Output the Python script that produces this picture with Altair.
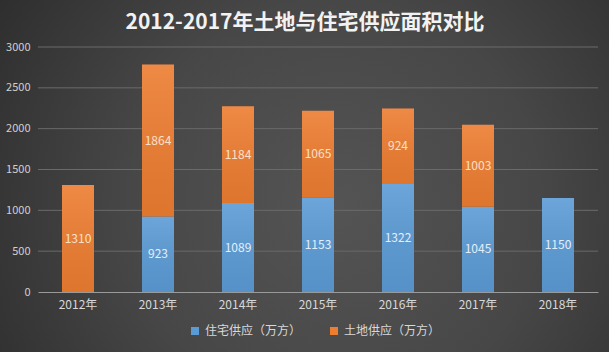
import altair as alt
import pandas as pd

years = ["2012年", "2013年", "2014年", "2015年", "2016年", "2017年", "2018年"]
housing = [0, 923, 1089, 1153, 1322, 1045, 1150]
land = [1310, 1864, 1184, 1065, 924, 1003, 0]
series_names = ["住宅供应（万方）", "土地供应（万方）"]
y_ticks = [0, 500, 1000, 1500, 2000, 2500, 3000]

rows = []
for i, y in enumerate(years):
    for k, (name, vals) in enumerate(zip(series_names, [housing, land])):
        if vals[i] > 0:
            rows.append({"year": y, "series": name, "value": vals[i], "ord": k})
df = pd.DataFrame(rows)

W, H = 560, 245
PAD = {"left": 38, "top": 47, "right": 11, "bottom": 60}
FONT = "Noto Sans CJK SC"

x_enc = alt.X(
    "year:N",
    sort=years,
    scale=alt.Scale(paddingInner=0.6, paddingOuter=0.3),
    axis=alt.Axis(title=None, labelAngle=0, ticks=False, domainColor="#9a9a9a",
                  domainWidth=1, labelColor="#d8d8d8", labelFontSize=12,
                  labelPadding=7, labelFont=FONT, zindex=1),
)
y_scale = alt.Scale(domain=[0, 3000], nice=False)

bg = alt.Chart(pd.DataFrame({"a": [0]})).mark_rect(
    color=alt.Gradient(
        gradient="radial",
        stops=[alt.GradientStop(color="#545454", offset=0),
               alt.GradientStop(color="#474747", offset=0.45),
               alt.GradientStop(color="#262626", offset=1)],
        x1=0.55, y1=0.55, r1=0, x2=0.55, y2=0.55, r2=0.75,
    )
).encode(
    x=alt.value(-PAD["left"]), x2=alt.value(W + PAD["right"]),
    y=alt.value(-PAD["top"]), y2=alt.value(H + PAD["bottom"]),
)

grid = alt.Chart(pd.DataFrame({"t": y_ticks[1:]})).mark_rule(
    color="#6a6a6a", strokeWidth=1
).encode(
    y=alt.Y("t:Q", scale=y_scale,
            axis=alt.Axis(title=None, values=y_ticks, ticks=False, domain=False,
                          grid=False, format="d", labelColor="#d0d0d0",
                          labelFontSize=11, labelPadding=8, labelFont=FONT,
                          zindex=1)),
)

base = alt.Chart(df)

bars = base.mark_bar().encode(
    x=x_enc,
    y=alt.Y("value:Q", stack="zero", scale=y_scale),
    color=alt.Color(
        "series:N",
        scale=alt.Scale(domain=series_names, range=["#5b9bd5", "#ed7d31"]),
        legend=alt.Legend(
            title=None, orient="none", direction="horizontal",
            legendX=151, legendY=278, symbolType="square", symbolSize=64,
            symbolStrokeWidth=0, labelColor="#d8d8d8", labelFontSize=12,
            labelFont=FONT, columnPadding=26, labelOffset=4, padding=0,
        ),
    ),
    order=alt.Order("ord:Q"),
)

shade = base.mark_bar(
    color=alt.Gradient(
        gradient="linear",
        stops=[alt.GradientStop(color="rgba(255,255,255,0.10)", offset=0),
               alt.GradientStop(color="rgba(0,0,0,0.06)", offset=1)],
        x1=0, x2=0, y1=0, y2=1,
    )
).encode(
    x=x_enc,
    y=alt.Y("value:Q", stack="zero", scale=y_scale),
    detail="series:N",
    order=alt.Order("ord:Q"),
)

labels = base.transform_window(
    cum="sum(value)", groupby=["year"], sort=[alt.SortField("ord")], frame=[None, 0]
).transform_calculate(
    mid="datum.cum - datum.value / 2"
).mark_text(fontSize=12, font=FONT).encode(
    x=x_enc,
    y=alt.Y("mid:Q", scale=y_scale),
    text="value:Q",
    color=alt.Color("series:N",
                    scale=alt.Scale(domain=series_names, range=["#e4eefa", "#fbe0c8"]),
                    legend=None),
)

chart = alt.layer(bg, grid, bars, shade, labels).resolve_scale(
    color="independent"
).properties(
    width=W, height=H,
    padding=PAD,
    autosize=alt.AutoSizeParams(type="none"),
    title=alt.TitleParams(
        "2012-2017年土地与住宅供应面积对比",
        color="#f2f2f2", fontSize=21, fontWeight="bold", font=FONT,
        anchor="middle", frame="group", baseline="top", offset=0, dy=33, dx=-13,
    ),
).configure(background="#333333").configure_view(stroke=None)

chart.save("out.html", embed_options={"renderer": "svg", "actions": False})
